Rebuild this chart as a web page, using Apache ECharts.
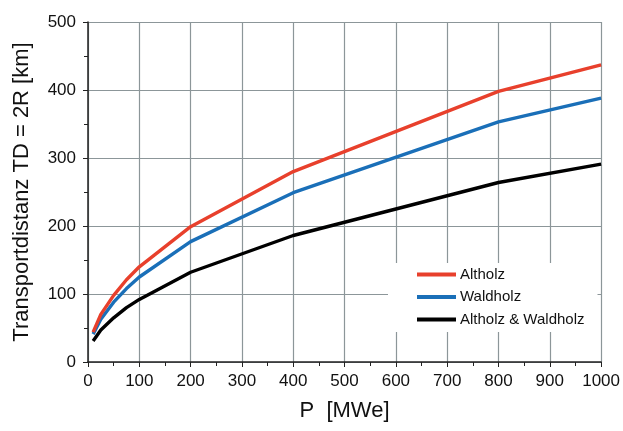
<!DOCTYPE html>
<html><head><meta charset="utf-8">
<script src="https://cdn.jsdelivr.net/npm/echarts@6/dist/echarts.min.js"></script>
<style>html,body{margin:0;padding:0;background:#fff}#c{width:623px;height:431px}</style>
</head><body><div id="c"></div>
<script>
const pValues = [10, 25, 50, 75, 100, 200, 400, 800, 1000];
const altholz = [44, 70, 98, 121, 140, 199, 280, 398, 437];
const waldholz = [41, 63, 88, 108, 125, 177, 249, 353, 388];
const beide = [31, 47, 65, 80, 92, 132, 186, 264, 291];
const seriesNames = ['Altholz', 'Waldholz', 'Altholz & Waldholz'];
const colors = ['#e8402c', '#1a6fb8', '#000000'];

const font = 'Liberation Sans, Arial, sans-serif';
const chart = echarts.init(document.getElementById('c'));
const mk = (arr) => pValues.map((p, i) => [p, arr[i]]);
chart.setOption({
  animation: false,
  grid: {left: 88, right: 21, top: 22, bottom: 69},
  legend: {
    orient: 'vertical', left: 388, top: 263, width: 190,
    backgroundColor: '#fff', padding: [3, 13, 4, 29],
    itemWidth: 39, itemHeight: 4, itemGap: 5.5, icon: 'rect',
    textStyle: {fontFamily: font, fontSize: 15, lineHeight: 17, color: '#111', padding: [0, 0, 0, -1]},
    data: seriesNames
  },
  xAxis: {
    type: 'value', min: 0, max: 1000, interval: 100,
    name: 'P  [MWe]', nameLocation: 'middle', nameGap: 38,
    nameTextStyle: {fontFamily: font, fontSize: 22, color: '#111'},
    axisLine: {show: true, onZero: false, lineStyle: {color: '#222', width: 1.5}},
    axisTick: {show: true, length: 5, lineStyle: {color: '#222'}},
    minorTick: {show: true, splitNumber: 2, length: 4, lineStyle: {color: '#222'}},
    axisLabel: {fontFamily: font, fontSize: 17, color: '#111', margin: 11, formatter: (v) => String(v)},
    splitLine: {show: true, lineStyle: {color: '#8c9699', width: 1.2}}
  },
  yAxis: {
    type: 'value', min: 0, max: 500, interval: 100,
    name: 'Transportdistanz TD = 2R [km]', nameLocation: 'middle', nameGap: 55,
    nameTextStyle: {fontFamily: font, fontSize: 22, color: '#111'},
    axisLine: {show: true, lineStyle: {color: '#222', width: 1.5}},
    axisTick: {show: true, length: 5, lineStyle: {color: '#222'}},
    minorTick: {show: true, splitNumber: 2, length: 4, lineStyle: {color: '#222'}},
    axisLabel: {fontFamily: font, fontSize: 17, color: '#111', margin: 12, formatter: (v) => String(v)},
    splitLine: {show: true, lineStyle: {color: '#8c9699', width: 1.2}}
  },
  series: [altholz, waldholz, beide].map((arr, i) => ({
    name: seriesNames[i], type: 'line', data: mk(arr), showSymbol: false,
    smooth: false, color: colors[i],
    lineStyle: {width: 3.4, color: colors[i]}, z: 3 - i
  }))
});
</script></body></html>
